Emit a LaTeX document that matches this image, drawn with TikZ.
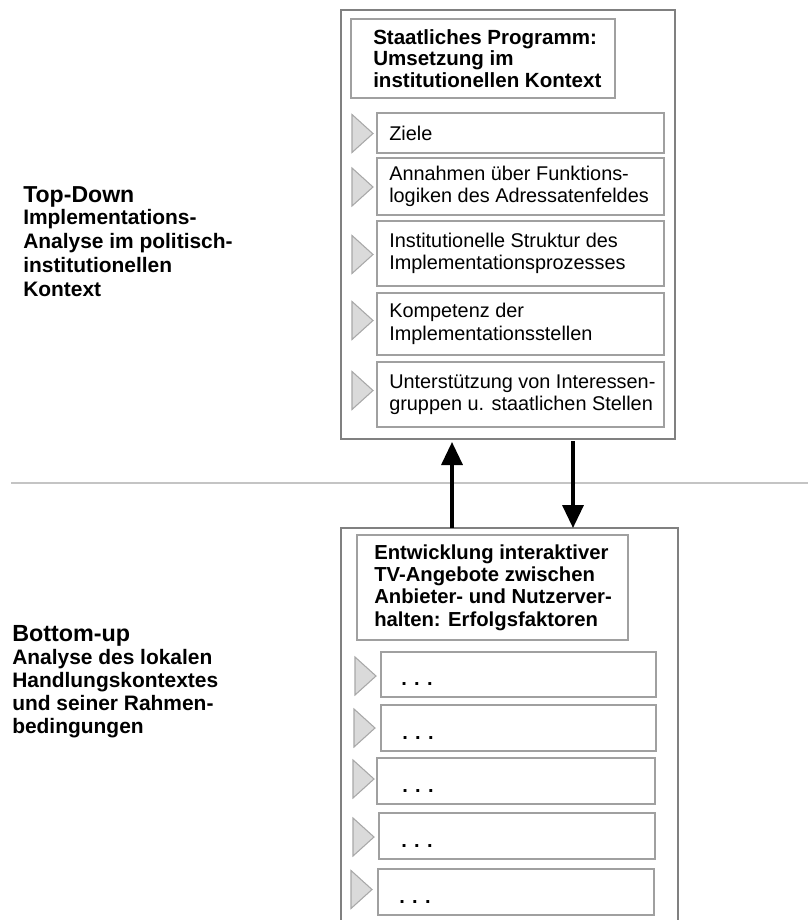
\documentclass[tikz,border=0pt]{standalone}
\usepackage{fontspec}
\setmainfont{Liberation Sans}
\usetikzlibrary{arrows.meta,calc}

\definecolor{framegray}{HTML}{808080}
\definecolor{boxgray}{HTML}{A0A0A0}
\definecolor{markfill}{HTML}{DADADA}
\definecolor{markline}{HTML}{A8A8A8}
\definecolor{rulegray}{HTML}{C4C4C4}

\begin{document}
\begin{tikzpicture}[x=0.75pt,y=-0.75pt,
  sz/.style 2 args={minimum width=#1*0.75pt, minimum height=#2*0.75pt},
  frame/.style={draw=framegray, line width=1pt, inner sep=0pt, outer sep=0pt},
  titlebox/.style={draw=boxgray, line width=0.9pt, inner sep=0pt, outer sep=0pt},
  itembox/.style={draw=boxgray, line width=0.9pt, inner sep=0pt, outer sep=0pt},
  titletext/.style={anchor=west, align=left, inner sep=0pt, font=\bfseries\fontsize{15.3pt}{16.3pt}\selectfont},
  itemtext/.style={anchor=west, align=left, inner sep=0pt, font=\fontsize{14.9pt}{16.8pt}\selectfont},
  dots/.style={anchor=base west, inner sep=0pt, font=\bfseries\fontsize{15pt}{16pt}\selectfont},
  sidelabel/.style={anchor=north west, align=left, inner sep=0pt},
  flow/.style={line width=2.6pt, -{Triangle[width=15.75pt,length=17.25pt]}},
  marker/.pic={\draw[fill=markfill, draw=markline, line width=0.8pt] (0,-19) -- (21,0) -- (0,19) -- cycle;}
]
\useasboundingbox (0,0) rectangle (808,920);

% separator between the two levels of analysis
\coordinate (sepL) at (11,483);
\coordinate (sepR) at (808,483);
\draw[rulegray, line width=1.2pt] (sepL) -- (sepR);

% ---------- top-down level ----------
\node[frame, sz={334}{429}] (top) at (508,224.5) {};
\node[titlebox, sz={264}{79}] (ttop) at (483,58.5) {};
\node[titletext, font=\bfseries\fontsize{15.4pt}{16.1pt}\selectfont] (ttopt) at ($(ttop.west)+(22,0)$)
  {Staatliches Programm:\\ Umsetzung im\\ institutionellen Kontext};

\node[itembox, sz={287}{40}] (i1) at (520.5,133) {};
\node[itembox, sz={287}{57}] (i2) at (520.5,186.5) {};
\node[itembox, sz={287}{65}] (i3) at (520.5,253.5) {};
\node[itembox, sz={287}{62}] (i4) at (520.5,324) {};
\node[itembox, sz={287}{65}] (i5) at (520.5,394.5) {};

\node[itemtext] (i1t) at ($(i1.west)+(12,0)$) {Ziele};
\node[itemtext] (i2t) at ($(i2.west)+(12,0)$) {Annahmen über Funktions-\\ logiken des Adressatenfeldes};
\node[itemtext] (i3t) at ($(i3.west)+(12,0)$) {Institutionelle Struktur des\\ Implementationsprozesses};
\node[itemtext] (i4t) at ($(i4.west)+(12,0)$) {Kompetenz der\\ Implementationsstellen};
\node[itemtext] (i5t) at ($(i5.west)+(12,0)$) {Unterstützung von Interessen-\\ gruppen u. staatlichen Stellen};

\pic at (352,133.5) {marker};
\pic at (352,187) {marker};
\pic at (352,254.5) {marker};
\pic at (352,320.5) {marker};
\pic at (352,390.5) {marker};

% ---------- bottom-up level ----------
\node[frame, sz={337}{402}] (bot) at (509.5,729) {};
\node[titlebox, sz={271}{105}] (tbot) at (492.5,587.5) {};
\node[titletext, font=\bfseries\fontsize{15.2pt}{16.65pt}\selectfont] (tbott) at ($(tbot.west)+(17,0)$)
  {Entwicklung interaktiver\\ TV-Angebote zwischen\\ Anbieter- und Nutzerver-\\ halten: Erfolgsfaktoren};

\node[itembox, sz={275}{45}] (b1) at (518.5,674.5) {};
\node[itembox, sz={275}{46}] (b2) at (518.5,728) {};
\node[itembox, sz={278}{46}] (b3) at (516,781) {};
\node[itembox, sz={276}{46}] (b4) at (517,836) {};
\node[itembox, sz={276}{46}] (b5) at (516,892) {};

\node[dots] (b1t) at ($(b1.south west)+(20,-12)$) {. . .};
\node[dots] (b2t) at ($(b2.south west)+(21,-12)$) {. . .};
\node[dots] (b3t) at ($(b3.south west)+(25,-12)$) {. . .};
\node[dots] (b4t) at ($(b4.south west)+(22,-12)$) {. . .};
\node[dots] (b5t) at ($(b5.south west)+(21,-12)$) {. . .};

\pic at (355,676) {marker};
\pic at (354,728) {marker};
\pic at (353,779) {marker};
\pic at (353,837) {marker};
\pic at (351,889.5) {marker};

% ---------- exchange between the levels ----------
\coordinate (upx) at (452,0);
\coordinate (downx) at (573,0);
\draw[flow] (bot.north -| upx) -- ([yshift=-2.25pt]top.south -| upx);
\draw[flow] ([yshift=-1.5pt]top.south -| downx) -- (bot.north -| downx);

% ---------- side labels ----------
\node[sidelabel, font=\bfseries\fontsize{15.7pt}{18pt}\selectfont] (topdown) at (23,186)
  {{\fontsize{17.3pt}{18pt}\selectfont Top-Down}\\[-1.5pt]
   Implementations-\\ Analyse im politisch-\\ institutionellen\\ Kontext};
\node[sidelabel, font=\bfseries\fontsize{15.7pt}{17.25pt}\selectfont] (bottomup) at (12,625)
  {{\fontsize{17.5pt}{17.25pt}\selectfont Bottom-up}\\
   Analyse des lokalen\\ Handlungskontextes\\ und seiner Rahmen-\\ bedingungen};
\end{tikzpicture}
\end{document}
